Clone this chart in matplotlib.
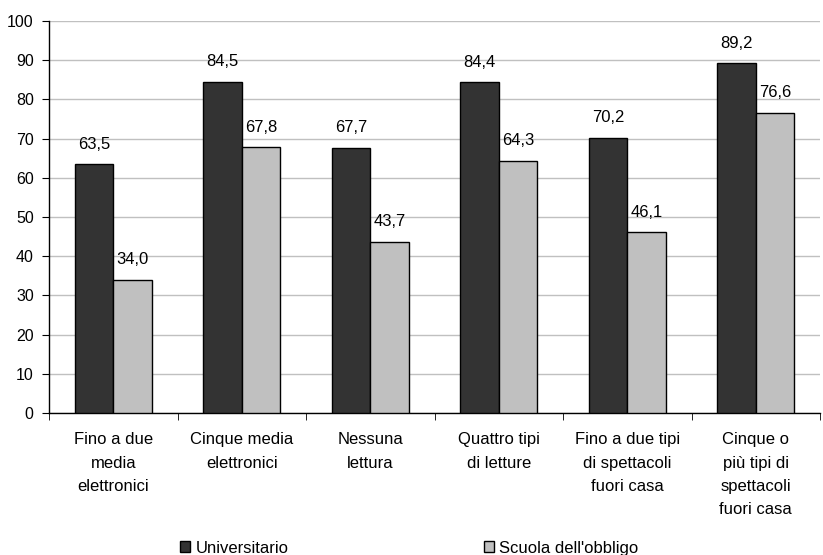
import matplotlib
matplotlib.use("Agg")
import matplotlib.pyplot as plt
import numpy as np
from matplotlib.patches import Patch

categories = ["Fino a due\nmedia\nelettronici", "Cinque media\nelettronici", "Nessuna\nlettura",
              "Quattro tipi\ndi letture", "Fino a due tipi\ndi spettacoli\nfuori casa",
              "Cinque o\npiù tipi di\nspettacoli\nfuori casa"]
universitario = [63.5, 84.5, 67.7, 84.4, 70.2, 89.2]
scuola_obbligo = [34.0, 67.8, 43.7, 64.3, 46.1, 76.6]
series_names = ["Universitario", "Scuola dell'obbligo"]
yticks = list(range(0, 101, 10))

plt.rcParams['font.family'] = ['Liberation Sans', 'DejaVu Sans']
fig = plt.figure(figsize=(8.23, 5.55), dpi=100)
ax = fig.add_axes([49/823, 1-413/555, (820-49)/823, (413-21)/555])

x = np.arange(len(categories))
w = 0.3
dark = "#333333"
light = "#c0c0c0"
b1 = ax.bar(x - w/2, universitario, w, color=dark, edgecolor="black", linewidth=1, zorder=3)
b2 = ax.bar(x + w/2, scuola_obbligo, w, color=light, edgecolor="black", linewidth=1, zorder=3)

def fmt(v):
    return f"{v:.1f}".replace(".", ",")

for bars, vals in ((b1, universitario), (b2, scuola_obbligo)):
    for r, v in zip(bars, vals):
        ax.annotate(fmt(v), (r.get_x() + r.get_width()/2, v), xytext=(0, 9),
                    textcoords="offset points", ha="center", va="bottom", fontsize=12)

ax.set_xlim(-0.5, len(categories) - 0.5)
ax.set_ylim(0, 100)
ax.set_yticks(yticks)
ax.tick_params(axis="y", labelsize=11.5, length=5, pad=6, direction="out")
ax.yaxis.grid(True, color="#c0c0c0", linewidth=1, zorder=0)
ax.set_axisbelow(True)

ax.set_xticks(x)
ax.set_xticklabels(categories, fontsize=12, linespacing=1.68, va="top")
ax.tick_params(axis="x", which="major", length=0, pad=14)
ax.set_xticks(np.arange(-0.5, len(categories) + 0.5, 1), minor=True)
ax.tick_params(axis="x", which="minor", length=5, direction="out")

for s in ("top", "right"):
    ax.spines[s].set_visible(False)
ax.spines["left"].set_linewidth(1)
ax.spines["bottom"].set_linewidth(1)

handles = [Patch(facecolor=dark, edgecolor="black"), Patch(facecolor=light, edgecolor="black")]
fig.legend(handles, series_names, loc="lower left", bbox_to_anchor=(168/823, -0.022), ncol=2,
           frameon=False, fontsize=12, handlelength=0.6, handleheight=0.6, handletextpad=0.35,
           columnspacing=11.7, borderpad=0.2)

fig.savefig("out.png", dpi=100)
